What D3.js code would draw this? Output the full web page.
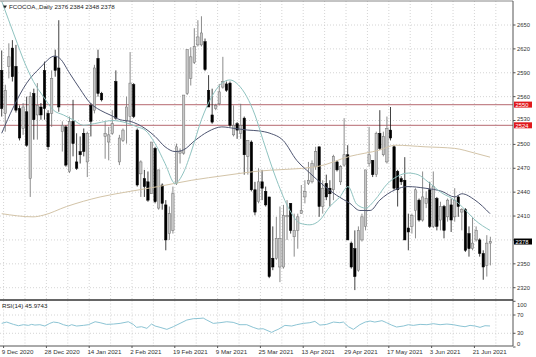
<!DOCTYPE html>
<html><head><meta charset="utf-8">
<script src="https://cdn.jsdelivr.net/npm/d3@7/dist/d3.min.js"></script>
<style>
body{margin:0;background:#fff;}
svg{display:block;}
text{font-family:"Liberation Sans",Arial,sans-serif;}
</style>
</head><body>
<svg id="c" width="536" height="357"></svg>
<script>
// ---- data ----
const open  = [2593,2539,2598,2621,2598,2545,2520,2541,2457,2564,2537,2547,2593,2539,2539,2610,2596,2516,2522,2466,
               2529,2478,2491,2514,2478,2549,2543,2608,2564,2510,2503,2514,2579,2478,2505,2529,2535,2575,2518,2463,
               2457,2453,2438,2495,2420,2449,2424,2388,2392,2451,2489,2489,2564,2583,2603,2625,2625,2629,2568,2537,
               2545,2551,2572,2576,2577,2512,2526,2514,2533,2485,2503,2443,2428,2453,2441,2434,2357,2357,2346,2346,
               2409,2426,2384,2392,2413,2434,2451,2453,2472,2497,2422,2451,2445,2443,2478,2453,2474,2487,2376,2369,
               2342,2380,2397,2476,2480,2462,2514,2487,2478,2518,2497,2466,2457,2455,2395,2397,2417,2430,2405,2426,
               2443,2397,2432,2405,2422,2409,2424,2409,2434,2415,2418,2388,2369,2380,2380,2363,2348,2376];
const high  = [2618,2575,2627,2631,2625,2549,2552,2560,2566,2570,2577,2552,2604,2543,2593,2619,2656,2529,2524,2535,
               2556,2514,2510,2520,2516,2552,2600,2619,2566,2529,2522,2543,2593,2512,2520,2560,2616,2577,2520,2480,
               2468,2466,2503,2497,2468,2451,2430,2422,2447,2501,2495,2562,2619,2622,2646,2656,2661,2633,2587,2570,
               2551,2576,2610,2579,2579,2549,2528,2551,2535,2505,2505,2453,2470,2468,2447,2434,2397,2409,2422,2424,
               2430,2426,2413,2413,2449,2455,2478,2480,2497,2497,2455,2462,2455,2487,2480,2474,2533,2499,2378,2392,
               2397,2413,2468,2522,2480,2516,2543,2516,2535,2547,2499,2468,2460,2484,2413,2413,2445,2432,2466,2441,
               2453,2466,2434,2428,2424,2432,2432,2445,2436,2420,2420,2397,2409,2397,2382,2367,2386,2384];
const low   = [2535,2516,2583,2579,2540,2505,2512,2497,2434,2506,2506,2531,2531,2493,2522,2585,2541,2491,2472,2464,
               2485,2468,2476,2485,2459,2510,2539,2560,2554,2482,2480,2512,2531,2474,2503,2501,2525,2533,2447,2434,
               2434,2428,2438,2426,2418,2418,2367,2380,2388,2449,2476,2487,2562,2574,2601,2623,2623,2592,2547,2526,
               2543,2549,2570,2566,2522,2510,2507,2507,2462,2462,2441,2411,2426,2430,2422,2332,2342,2355,2327,2344,
               2380,2388,2359,2369,2413,2426,2449,2451,2468,2409,2413,2430,2422,2430,2466,2449,2472,2380,2344,2317,
               2340,2378,2392,2472,2459,2459,2493,2485,2476,2505,2443,2422,2449,2380,2367,2388,2382,2403,2403,2420,
               2395,2395,2392,2392,2382,2403,2390,2403,2409,2392,2365,2359,2367,2378,2359,2330,2334,2348];
const close = [2545,2568,2610,2585,2543,2508,2547,2499,2560,2531,2549,2537,2545,2497,2583,2593,2547,2524,2474,2529,
               2501,2470,2487,2491,2514,2529,2596,2564,2556,2514,2512,2526,2533,2508,2518,2547,2577,2535,2449,2478,
               2447,2430,2503,2428,2468,2426,2380,2413,2438,2497,2491,2562,2619,2610,2623,2635,2640,2594,2547,2528,
               2549,2566,2579,2568,2524,2524,2518,2524,2487,2505,2443,2415,2453,2445,2424,2334,2346,2382,2382,2411,
               2411,2392,2392,2409,2417,2441,2455,2476,2491,2422,2445,2434,2438,2485,2468,2472,2487,2380,2346,2334,
               2392,2409,2468,2487,2462,2514,2495,2510,2520,2508,2445,2443,2453,2380,2390,2411,2443,2405,2434,2432,
               2397,2447,2397,2422,2392,2430,2405,2430,2422,2418,2367,2369,2376,2392,2363,2346,2376,2378];

// moving averages, read at bar positions
const maFastIdx = [0,3.7,6.5,8.9,11.7,14.5,17.3,20,22.9,27,31,35,38,40.2,43,45.8,48.6,50.9,53.3,56,58.9,61.7,64,66.3,68.7,71,73.3,77.1,80.8,83.6,86.4,89.2,92,94.8,97.1,99.5,102,104.6,108,111,114,116.7,119.5,123.4,127,129.9,132.7,136.9];
const maFastVal = [2680,2635,2602,2579,2560,2543,2537,2531,2524,2527,2530,2527,2522,2518,2501,2476,2451,2464,2493,2531,2560,2577,2581,2575,2560,2537,2505,2455,2417,2401,2399,2405,2422,2434,2447,2425,2420,2430,2450,2460,2464,2462,2453,2439,2430,2418,2405,2392];
const maMidIdx  = [0,3.3,7,10.7,14.9,16.3,19.1,21.9,24.8,27.6,30.4,33.2,36,40.2,43,45.8,48.6,50.9,54.2,57.8,61.7,65.4,69,72,75.2,78.9,82.7,86.4,90.1,93.9,97.6,100.4,103.3,106,110.3,113.9,118.7,123.4,127,129,132.7,136.9];
const maMidVal  = [2514,2547,2577,2596,2611,2608,2589,2570,2552,2543,2537,2531,2529,2520,2510,2497,2491,2493,2505,2516,2522,2520,2518,2517,2514,2505,2480,2464,2449,2436,2426,2417,2417,2430,2443,2447,2445,2441,2434,2438,2430,2413];
const maSlowIdx = [0,8.8,11.6,18.2,27.6,36,43.8,53.3,62.6,71,88.3,97.6,106,110.3,118.7,127,132.7,136.9];
const maSlowVal = [2413,2409,2411,2422,2434,2441,2447,2455,2461,2466,2472,2485,2493,2499,2497,2495,2489,2484];

const rsiIdx = [0,1.4,3.3,4.7,6.1,7.5,8.4,9.3,10.7,12.1,13.5,14.5,15.9,17.3,18.7,19.6,21,22.9,24.3,26.2,27.6,29.4,31.3,33.2,35.5,36.9,37.8,39.2,40.7,42,43,44.4,46.3,48.1,50,51.9,53.7,55.6,56.5,57.5,59.3,61.2,63.1,64.9,66.8,68.7,70.5,71.9,73.3,75.7,76.6,77.5,79.4,81.3,82.7,84.6,86.4,87.8,89.2,91.1,93,94.8,95.8,97.2,98.6,100.4,101.9,103.3,104.6,106.6,107.9,109.3,110.7,112.6,114,115.4,117.3,119.2,121,122.9,124.8,126.6,128.5,129.9,131.3,132.7,134.1,135.5,136.9];
const rsiVal = [51.7,54.6,49.5,46.6,48.8,47.3,49.5,48,48.8,45.9,51.7,54.6,53.2,48.8,45.9,48.8,45.9,47.3,48.8,55.3,53.2,49.5,50.2,51.7,55.3,49.5,43,44.4,40.8,50.2,45.9,43,38.6,44.4,51.7,59,61.9,62.6,63.3,59,51.7,53.2,55.3,53.9,48.8,48.8,43,39.3,40,32,35.7,38.6,47.3,45.9,48.8,51.7,53.2,56.1,48,49.5,54.6,53.2,54.6,44.4,38.6,48.8,54.6,56.8,54.6,57.6,53.2,48,43.7,45.9,48.8,47.3,49.5,48.8,51,48.8,50.2,48.8,45.9,44.4,47.3,45.9,43,46.6,46];

const priceTicks = [2320,2350,2380,2410,2440,2470,2500,2530,2560,2590,2620,2650];
const dateLabels = ["9 Dec 2020","28 Dec 2020","14 Jan 2021","2 Feb 2021","19 Feb 2021","9 Mar 2021",
                    "25 Mar 2021","13 Apr 2021","29 Apr 2021","17 May 2021","3 Jun 2021","21 Jun 2021"];
const levels = [2550, 2524];
const lastPrice = 2378;
const rsiTicks = [0, 30, 70, 100];
const rsiLevels = [30, 70];
const header = "FCOCOA,,Daily  2376 2384 2348 2378";
const rsiTitle = "RSI(14) 45.9743";

// ---- drawing ----
const svg = d3.select("#c");
const W = 536, H = 357;
const plotR = 513, mainTop = 1, mainBot = 300, rsiTop = 300.5, rsiBot = 346;
const step = 3.567;
const x = d3.scaleLinear().domain([0, 1]).range([1.7, 1.7 + step]);
const y = d3.scaleLinear().domain([2320, 2650]).range([287.7, 25]);
const ry = d3.scaleLinear().domain([0, 100]).range([347, 301.3]);

svg.append("rect").attr("width", W).attr("height", H).attr("fill", "#fff");

const gridColor = "#c9c9c9";
const gridIdx = d3.range(0.53, 140, 6).filter(i => x(i) < plotR);
const g = svg.append("g");
gridIdx.forEach(i => {
  g.append("line").attr("x1", x(i)).attr("x2", x(i)).attr("y1", mainTop).attr("y2", mainBot)
    .attr("stroke", gridColor).attr("stroke-width", 0.8).attr("stroke-dasharray", "1,2");
  g.append("line").attr("x1", x(i)).attr("x2", x(i)).attr("y1", rsiTop).attr("y2", rsiBot)
    .attr("stroke", gridColor).attr("stroke-width", 0.8).attr("stroke-dasharray", "1,2");
});
priceTicks.forEach(p => {
  g.append("line").attr("x1", 0).attr("x2", plotR).attr("y1", y(p)).attr("y2", y(p))
    .attr("stroke", gridColor).attr("stroke-width", 0.8).attr("stroke-dasharray", "1,2");
});
rsiLevels.forEach(v => {
  g.append("line").attr("x1", 0).attr("x2", plotR).attr("y1", ry(v)).attr("y2", ry(v))
    .attr("stroke", gridColor).attr("stroke-width", 0.8).attr("stroke-dasharray", "1,2");
});

levels.forEach(l => {
  svg.append("line").attr("x1", 0).attr("x2", plotR).attr("y1", y(l)).attr("y2", y(l))
    .attr("stroke", "#c4868c").attr("stroke-width", 1.2);
});

const bars = open.map((o, i) => ({i, o, h: high[i], l: low[i], c: close[i]}));
const cg = svg.append("g");
bars.forEach(b => {
  const cx = x(b.i);
  const up = b.c >= b.o;
  cg.append("line").attr("x1", cx).attr("x2", cx).attr("y1", y(b.h)).attr("y2", y(b.l))
    .attr("stroke", up ? "#6e6e6e" : "#111").attr("stroke-width", 0.8);
  const top = y(Math.max(b.o, b.c)), bot = y(Math.min(b.o, b.c));
  cg.append("rect").attr("x", cx - 1.2).attr("y", top).attr("width", 2.4).attr("height", Math.max(0.8, bot - top))
    .attr("fill", up ? "#c8c8c8" : "#000").attr("stroke", up ? "#6e6e6e" : "#000").attr("stroke-width", 0.5);
});

const maLine = d3.line().x(d => x(d[0])).y(d => y(d[1])).curve(d3.curveMonotoneX);
svg.append("clipPath").attr("id", "mc").append("rect")
  .attr("x", 0).attr("y", mainTop).attr("width", plotR).attr("height", mainBot - mainTop);
const mg = svg.append("g").attr("clip-path", "url(#mc)");
mg.append("path").datum(d3.zip(maSlowIdx, maSlowVal)).attr("d", maLine)
  .attr("fill", "none").attr("stroke", "#d3c4a8").attr("stroke-width", 1);
mg.append("path").datum(d3.zip(maMidIdx, maMidVal)).attr("d", maLine)
  .attr("fill", "none").attr("stroke", "#4d5470").attr("stroke-width", 1);
mg.append("path").datum(d3.zip(maFastIdx, maFastVal)).attr("d", maLine)
  .attr("fill", "none").attr("stroke", "#8fc3c0").attr("stroke-width", 1);

const rsiLine = d3.line().x(d => x(d[0])).y(d => ry(d[1]));
svg.append("path").datum(d3.zip(rsiIdx, rsiVal)).attr("d", rsiLine)
  .attr("fill", "none").attr("stroke", "#8cc4d4").attr("stroke-width", 1);

svg.append("line").attr("x1", 0).attr("x2", plotR).attr("y1", mainTop).attr("y2", mainTop).attr("stroke", "#888").attr("stroke-width", 1);
svg.append("line").attr("x1", plotR).attr("x2", plotR).attr("y1", mainTop).attr("y2", rsiBot).attr("stroke", "#555").attr("stroke-width", 1);
svg.append("line").attr("x1", 0).attr("x2", plotR).attr("y1", mainBot).attr("y2", mainBot).attr("stroke", "#333").attr("stroke-width", 1.6);
svg.append("line").attr("x1", 0).attr("x2", plotR).attr("y1", rsiBot).attr("y2", rsiBot).attr("stroke", "#555").attr("stroke-width", 1);

// right price axis; labels hidden behind the tags are skipped
const tagVals = levels.concat([lastPrice]);
const fs = 5.8;
const ax = svg.append("g").attr("font-size", fs).attr("fill", "#333");
priceTicks.forEach(p => {
  ax.append("line").attr("x1", plotR).attr("x2", plotR + 2.5).attr("y1", y(p)).attr("y2", y(p)).attr("stroke", "#555");
  const near = tagVals.some(t => Math.abs(y(t) - y(p)) < 5.5);
  const ty = near ? y(p) - 1.2 : y(p);
  if (!tagVals.some(t => Math.abs(y(t) - y(p)) < 3))
    ax.append("text").attr("x", 517).attr("y", ty).attr("dy", "0.35em").text(p);
});
levels.forEach(l => {
  svg.append("rect").attr("x", 514).attr("y", y(l) - 3).attr("width", 18).attr("height", 6).attr("fill", "#e0181c");
  svg.append("text").attr("x", 515.5).attr("y", y(l) + 0.6).attr("dy", "0.35em").attr("font-size", fs).attr("fill", "#fff").text(l);
});
svg.append("rect").attr("x", 514).attr("y", y(lastPrice) - 3).attr("width", 18).attr("height", 6).attr("fill", "#000");
svg.append("text").attr("x", 515.5).attr("y", y(lastPrice)).attr("dy", "0.35em").attr("font-size", fs).attr("fill", "#fff").text(lastPrice);

rsiTicks.forEach(v => {
  const yy = Math.min(343.5, Math.max(305, ry(v)));
  svg.append("line").attr("x1", plotR).attr("x2", plotR + 2.5).attr("y1", ry(v)).attr("y2", ry(v)).attr("stroke", "#555");
  svg.append("text").attr("x", 517).attr("y", yy).attr("dy", "0.35em").attr("font-size", fs).attr("fill", "#333").text(v);
});

dateLabels.forEach((t, k) => {
  const gx = x(gridIdx[k * 2]);
  svg.append("line").attr("x1", gx).attr("x2", gx).attr("y1", rsiBot).attr("y2", rsiBot + 2).attr("stroke", "#555");
  svg.append("text").attr("x", gx - 1.8).attr("y", 354).attr("font-size", 6.2).attr("fill", "#333").text(t);
});

svg.append("path").attr("d", "M3,5.5 L7,5.5 L5,8.5 Z").attr("fill", "#222");
svg.append("text").attr("x", 9).attr("y", 8.8).attr("font-size", 6.2).attr("fill", "#222").text(header);
svg.append("text").attr("x", 2).attr("y", 308).attr("font-size", 6.2).attr("fill", "#222").text(rsiTitle);
</script>
</body></html>
